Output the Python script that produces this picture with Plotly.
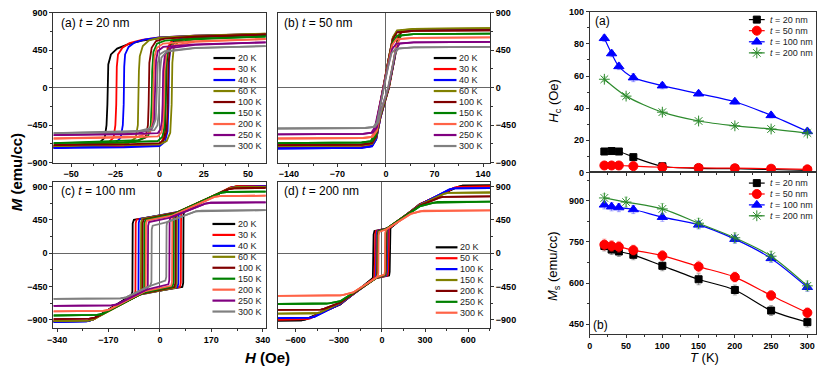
import plotly.graph_objects as go

# ------------------------------------------------------------------
# DATA
# Hysteresis branches: lists of (H [Oe], M [emu/cc]) vertices
# ------------------------------------------------------------------
TEMPS_ABC = ["20 K", "30 K", "40 K", "60 K", "100 K", "150 K", "200 K", "250 K", "300 K"]
TEMPS_D = ["20 K", "50 K", "100 K", "150 K", "200 K", "250 K", "300 K"]

# (a) t = 20 nm
A_DOWN = [
    [(60,635),(20,615),(0,595),(-10,565),(-18,520),(-24,470),(-27.5,400),(-29,280),(-29.5,-200),(-30,-450),(-31,-600),(-35,-680),(-60,-715)],
    [(60,645),(20,625),(0,605),(-10,575),(-17,535),(-21,480),(-23.5,400),(-24.2,250),(-24.5,-200),(-25,-450),(-26,-600),(-30,-680),(-60,-715)],
    [(60,645),(20,625),(0,605),(-8,580),(-14,545),(-17.5,490),(-19.5,400),(-20,250),(-20.3,-200),(-20.8,-450),(-22,-600),(-26,-690),(-60,-725)],
    [(60,650),(20,625),(0,600),(-6,570),(-9.5,500),(-11.2,380),(-11.7,200),(-12,-200),(-12.3,-450),(-13.5,-600),(-18,-670),(-60,-700)],
    [(60,640),(20,615),(3,590),(-2,560),(-4.5,480),(-5.8,300),(-6.2,-200),(-6.6,-450),(-8,-600),(-14,-650),(-60,-690)],
    [(60,615),(20,590),(3,565),(-1.5,530),(-3.5,430),(-4.2,200),(-4.5,-200),(-5,-450),(-6.5,-580),(-12,-630),(-60,-665)],
    [(60,585),(20,560),(2,530),(-1.5,480),(-2.8,380),(-3.3,150),(-3.6,-200),(-4,-420),(-5.5,-540),(-12,-585),(-60,-610)],
    [(60,545),(20,520),(2,490),(-1,440),(-2,330),(-2.4,100),(-2.7,-200),(-3.1,-400),(-4.5,-500),(-12,-545),(-60,-570)],
    [(60,500),(20,478),(3,440),(0,400),(-1,300),(-1.4,100),(-1.7,-200),(-2.2,-380),(-4,-480),(-12,-520),(-60,-545)],
]
A_UP = [
    [(-60,-715),(-20,-705),(0,-690),(2,-640),(3,-520),(3.5,-200),(4,300),(5,480),(8,560),(20,610),(60,635)],
    [(-60,-715),(-20,-705),(0,-690),(1.5,-640),(2.5,-520),(3,-200),(3.5,300),(4.5,480),(7,570),(20,620),(60,645)],
    [(-60,-725),(-20,-715),(0,-700),(3,-650),(4.5,-520),(5,-200),(5.3,300),(6,480),(9,570),(20,620),(60,645)],
    [(-60,-700),(-20,-690),(0,-680),(4,-640),(6,-540),(6.8,-200),(7.2,300),(8,480),(11,570),(20,615),(60,650)],
    [(-60,-690),(-20,-680),(0,-665),(2.5,-620),(4,-520),(4.6,-200),(5,300),(6,480),(9,560),(20,605),(60,640)],
    [(-60,-665),(-20,-655),(-1,-640),(1.5,-590),(2.8,-480),(3.3,-200),(3.6,250),(4.5,450),(8,540),(20,580),(60,615)],
    [(-60,-610),(-20,-600),(-1,-585),(1,-540),(2,-440),(2.5,-200),(2.8,200),(3.8,420),(7,505),(20,550),(60,585)],
    [(-60,-570),(-20,-560),(-1,-545),(0.5,-500),(1.3,-400),(1.7,-200),(2,200),(3,400),(6,475),(20,515),(60,545)],
    [(-60,-545),(-20,-535),(-3,-510),(-1.2,-450),(-0.5,-300),(-0.2,-100),(0.2,200),(1,360),(4,435),(20,475),(60,500)],
]

# (b) t = 50 nm
B_DOWN = [
    [(150,700),(40,692),(16,675),(10,595),(4,350),(-4,0),(-12,-362),(-17,-616),(-22,-700),(-35,-717),(-156,-725)],
    [(150,705),(40,697),(16,680),(10,600),(4,352),(-4.5,0),(-12.5,-362),(-17.5,-616),(-22,-700),(-35,-717),(-156,-725)],
    [(150,700),(40,692),(16,675),(10,595),(4,350),(-4,0),(-12,-365),(-17,-620),(-22,-705),(-35,-722),(-156,-730)],
    [(150,715),(40,707),(16,690),(10,608),(4,357),(-4,0),(-12,-350),(-17,-595),(-22,-675),(-35,-692),(-156,-700)],
    [(150,690),(40,682),(16,665),(10,586),(4,345),(-4,0),(-12,-345),(-17,-586),(-22,-665),(-35,-682),(-156,-690)],
    [(150,650),(40,643),(16,627),(10,552),(4,325),(-4,0),(-12,-332),(-17,-565),(-22,-642),(-35,-658),(-156,-665)],
    [(150,605),(40,598),(15,583),(9,514),(3.5,302),(-3.5,0),(-11,-305),(-16,-518),(-21,-590),(-33,-604),(-156,-610)],
    [(150,550),(40,544),(15,530),(9,467),(3.5,275),(-3.5,0),(-11,-280),(-16,-476),(-21,-540),(-33,-554),(-156,-560)],
    [(150,490),(40,484),(14,470),(8,415),(3,245),(-3,0),(-9,-245),(-13,-415),(-18,-470),(-30,-484),(-156,-490)],
]
B_UP = [
    [(-156,-725),(-35,-717),(-20,-700),(-14,-616),(-8,-362),(4,0),(12,350),(17,595),(22,675),(40,692),(150,700)],
    [(-156,-725),(-35,-717),(-20,-700),(-14,-616),(-8,-362),(4.5,0),(12.5,352),(17.5,600),(22,680),(40,697),(150,705)],
    [(-156,-730),(-35,-722),(-20,-705),(-14,-620),(-8,-365),(4,0),(12,350),(17,595),(22,675),(40,692),(150,700)],
    [(-156,-700),(-35,-692),(-20,-675),(-14,-595),(-8,-350),(4,0),(12,357),(17,608),(22,690),(40,707),(150,715)],
    [(-156,-690),(-35,-682),(-20,-665),(-14,-586),(-8,-345),(4,0),(12,345),(17,586),(22,665),(40,682),(150,690)],
    [(-156,-665),(-35,-658),(-20,-642),(-14,-565),(-8,-332),(4,0),(12,325),(17,552),(22,627),(40,643),(150,650)],
    [(-156,-610),(-33,-604),(-19,-590),(-13,-518),(-7.5,-305),(3.5,0),(10.5,302),(15,514),(20,583),(40,598),(150,605)],
    [(-156,-560),(-33,-554),(-19,-540),(-13,-476),(-7.5,-280),(3.5,0),(10.5,275),(15,467),(20,530),(40,544),(150,550)],
    [(-156,-490),(-30,-484),(-16,-470),(-11,-415),(-6,-245),(3,0),(9,245),(13,415),(18,470),(40,484),(150,490)],
]

# (c) t = 100 nm
C_DOWN = [
    [(350,905),(255,900),(235,885),(80,565),(-86,450),(-90,400),(-91,-520),(-95,-570),(-222,-895),(-240,-915),(-352,-922)],
    [(350,905),(252,900),(232,885),(72,560),(-77,455),(-80,405),(-81,-515),(-85,-565),(-218,-890),(-236,-908),(-352,-915)],
    [(350,900),(255,895),(235,880),(64,560),(-67,460),(-70,410),(-71,-515),(-75,-565),(-225,-900),(-242,-918),(-352,-925)],
    [(350,895),(250,890),(230,875),(58,555),(-59,465),(-62,415),(-63,-510),(-67,-560),(-220,-892),(-238,-908),(-352,-915)],
    [(350,880),(245,875),(225,860),(54,545),(-54,455),(-57,405),(-58,-500),(-62,-550),(-215,-868),(-233,-883),(-352,-890)],
    [(350,830),(220,825),(200,812),(48,530),(-48,450),(-51,400),(-52,-485),(-56,-535),(-190,-818),(-208,-833),(-352,-840)],
    [(350,775),(198,770),(180,758),(43,510),(-43,440),(-46,390),(-47,-465),(-51,-515),(-170,-765),(-188,-778),(-352,-785)],
    [(350,685),(168,680),(150,668),(34,480),(-36,420),(-39,370),(-40,-440),(-44,-490),(-142,-690),(-160,-703),(-352,-710)],
    [(350,580),(138,575),(120,565),(24,420),(-24,370),(-27,320),(-28,-390),(-32,-440),(-112,-595),(-130,-608),(-352,-615)],
]
C_UP = [
    [(-352,-922),(-240,-915),(-222,-895),(-95,-570),(74,-455),(77,-400),(78,510),(80,565),(235,885),(255,900),(350,905)],
    [(-352,-915),(-236,-908),(-218,-890),(-85,-565),(66,-455),(69,-400),(70,505),(72,560),(232,885),(252,900),(350,905)],
    [(-352,-925),(-242,-918),(-225,-900),(-75,-565),(58,-460),(61,-405),(62,505),(64,560),(235,880),(255,895),(350,900)],
    [(-352,-915),(-238,-908),(-220,-892),(-67,-560),(52,-465),(55,-410),(56,500),(58,555),(230,875),(250,890),(350,895)],
    [(-352,-890),(-233,-883),(-215,-868),(-62,-550),(48,-455),(51,-400),(52,490),(54,545),(225,860),(245,875),(350,880)],
    [(-352,-840),(-208,-833),(-190,-818),(-56,-535),(42,-450),(45,-395),(46,475),(48,530),(200,812),(220,825),(350,830)],
    [(-352,-785),(-188,-778),(-170,-765),(-51,-515),(37,-440),(40,-385),(41,455),(43,510),(180,758),(198,770),(350,775)],
    [(-352,-710),(-160,-703),(-142,-690),(-44,-490),(28,-420),(31,-365),(32,425),(34,480),(150,668),(168,680),(350,685)],
    [(-352,-615),(-130,-608),(-112,-595),(-32,-440),(18,-370),(21,-320),(22,370),(24,420),(120,565),(138,575),(350,580)],
]

# (d) t = 200 nm
D_DOWN = [
    [(752,915),(560,910),(530,895),(262,660),(62,345),(-52,300),(-58,250),(-60,-280),(-63,-325),(-68,-345),(-290,-690),(-530,-892),(-560,-905),(-725,-910)],
    [(752,900),(530,895),(500,880),(262,655),(52,342),(-42,300),(-46,250),(-48,-280),(-51,-322),(-56,-342),(-290,-685),(-500,-878),(-530,-890),(-725,-895)],
    [(752,878),(500,873),(470,860),(262,650),(42,338),(-32,300),(-36,250),(-38,-280),(-41,-318),(-46,-338),(-290,-680),(-470,-858),(-500,-870),(-725,-875)],
    [(752,818),(460,813),(430,800),(262,645),(37,335),(-27,298),(-31,250),(-33,-280),(-36,-315),(-41,-335),(-290,-672),(-430,-798),(-460,-810),(-725,-815)],
    [(752,765),(425,760),(400,748),(262,640),(34,332),(-24,295),(-28,245),(-30,-275),(-33,-312),(-38,-332),(-290,-665),(-400,-748),(-425,-760),(-725,-765)],
    [(752,695),(385,690),(360,680),(262,630),(32,330),(-22,293),(-26,245),(-28,-275),(-31,-310),(-36,-330),(-290,-648),(-360,-672),(-385,-682),(-725,-685)],
    [(752,578),(290,575),(265,565),(200,530),(29,320),(-19,288),(-23,240),(-25,-270),(-28,-305),(-33,-322),(-200,-530),(-265,-562),(-290,-572),(-725,-575)],
]
D_UP = [
    [(-725,-910),(-560,-905),(-530,-892),(-290,-690),(-68,-345),(50,-300),(54,-250),(56,280),(59,325),(62,345),(262,660),(530,895),(560,910),(752,915)],
    [(-725,-895),(-530,-890),(-500,-878),(-290,-685),(-56,-342),(40,-300),(44,-250),(46,280),(49,322),(52,342),(262,655),(500,880),(530,895),(752,900)],
    [(-725,-875),(-500,-870),(-470,-858),(-290,-680),(-46,-338),(30,-300),(34,-250),(36,280),(39,318),(42,338),(262,650),(470,860),(500,873),(752,878)],
    [(-725,-815),(-460,-810),(-430,-798),(-290,-672),(-41,-335),(25,-298),(29,-250),(31,280),(34,315),(37,335),(262,645),(430,800),(460,813),(752,818)],
    [(-725,-765),(-425,-760),(-400,-748),(-290,-665),(-38,-332),(22,-295),(26,-245),(28,275),(31,312),(34,332),(262,640),(400,748),(425,760),(752,765)],
    [(-725,-685),(-385,-682),(-360,-672),(-290,-648),(-36,-330),(20,-293),(24,-245),(26,275),(29,310),(32,330),(262,630),(360,680),(385,690),(752,695)],
    [(-725,-575),(-290,-572),(-265,-562),(-200,-530),(-33,-322),(17,-288),(21,-240),(23,270),(26,305),(29,320),(200,530),(265,565),(290,575),(752,578)],
]

# Right panels: coercivity and saturation magnetisation vs temperature
T_MAIN = [20, 30, 40, 60, 100, 150, 200, 250, 300]
T_200 = [20, 50, 100, 150, 200, 250, 300]
THICK_LABELS = ["<i>t</i> = 20 nm", "<i>t</i> = 50 nm", "<i>t</i> = 100 nm", "<i>t</i> = 200 nm"]

HC_20 = [13.0, 13.3, 13.0, 9.5, 3.8, 2.5, 2.3, 1.8, 1.3]
HC_50 = [4.3, 4.3, 4.3, 3.9, 3.2, 2.8, 2.6, 2.3, 1.9]
HC_100 = [83.5, 74.0, 66.0, 59.0, 54.0, 49.0, 44.0, 35.5, 25.5]
HC_200 = [58.0, 47.5, 37.5, 32.0, 29.0, 27.0, 24.5]
HC_ERR_20 = [0.8] * 9
HC_ERR_50 = [0.6] * 9
HC_ERR_100 = [2.0, 2.0, 2.0, 2.5, 2.0, 1.5, 1.5, 1.5, 1.5]
HC_ERR_200 = [1.5, 1.5, 1.5, 1.2, 1.2, 1.2, 1.2]

MS_20 = [735, 722, 715, 703, 663, 614, 575, 500, 458]
MS_50 = [740, 735, 732, 720, 700, 660, 622, 555, 492]
MS_100 = [885, 878, 875, 868, 840, 812, 760, 690, 585]
MS_200 = [910, 895, 870, 818, 765, 698, 590]
MS_ERR_20 = [18, 18, 18, 18, 18, 20, 18, 18, 18]
MS_ERR_50 = [20, 20, 20, 18, 18, 20, 18, 18, 18]
MS_ERR_100 = [15, 15, 15, 15, 15, 15, 15, 15, 15]
MS_ERR_200 = [15, 18, 20, 18, 18, 18, 18]

# ------------------------------------------------------------------
# STYLE
# ------------------------------------------------------------------
W, HGT = 826, 373
FONT = "Liberation Sans, Arial, sans-serif"
COL9 = ["#000000", "#FF0000", "#0000FF", "#808000", "#800000", "#008000", "#FF6347", "#800080", "#808080"]
COL7 = ["#000000", "#FF0000", "#0000FF", "#808000", "#800000", "#008000", "#FF6347"]
TICKFONT = dict(family=FONT, size=9, color="#000", weight="bold")
AXC = "#333333"


def xdom(l, r):
    return [l / W, r / W]


def ydom(t, b):
    return [1 - b / HGT, 1 - t / HGT]


fig = go.Figure()


def add_loops(down, up, colors, n):
    xa = "x" if n == 1 else f"x{n}"
    ya = "y" if n == 1 else f"y{n}"
    for dn, upb, col in zip(down, up, colors):
        for br in (dn, upb):
            fig.add_trace(go.Scatter(
                x=[p[0] for p in br], y=[p[1] for p in br], mode="lines",
                line=dict(color=col, width=1.8), xaxis=xa, yaxis=ya,
                showlegend=False, hoverinfo="skip"))


add_loops(A_DOWN, A_UP, COL9, 1)
add_loops(B_DOWN, B_UP, COL9, 2)
add_loops(C_DOWN, C_UP, COL9, 3)
add_loops(D_DOWN, D_UP, COL7, 4)

# Right panels
SERIES = [
    (T_MAIN, HC_20, HC_ERR_20, MS_20, MS_ERR_20, "#000000", "rgba(0,0,0,0.35)", "square", 7),
    (T_MAIN, HC_50, HC_ERR_50, MS_50, MS_ERR_50, "#FF0000", "rgba(255,0,0,0.35)", "circle", 9),
    (T_MAIN, HC_100, HC_ERR_100, MS_100, MS_ERR_100, "#0000FF", "rgba(0,0,255,0.35)", "triangle-up", 9),
    (T_200, HC_200, HC_ERR_200, MS_200, MS_ERR_200, "#2E8B2E", "rgba(60,160,60,0.4)", "asterisk-open", 9),
]
for tt, hc, hce, ms, mse, col, ecol, sym, sz in SERIES:
    mk = dict(symbol=sym, size=sz, color=col, line=dict(color=col if "asterisk" not in sym else "#5DB85D", width=1))
    fig.add_trace(go.Scatter(x=tt, y=hc, mode="lines+markers", line=dict(color=col, width=1.2, shape="spline", smoothing=0.8),
                             marker=mk, error_y=dict(type="data", array=hce, color=ecol, thickness=1, width=2),
                             xaxis="x5", yaxis="y5", showlegend=False, hoverinfo="skip"))
    fig.add_trace(go.Scatter(x=tt, y=ms, mode="lines+markers", line=dict(color=col, width=1.2, shape="spline", smoothing=0.8),
                             marker=mk, error_y=dict(type="data", array=mse, color=ecol, thickness=1, width=2),
                             xaxis="x6", yaxis="y6", showlegend=False, hoverinfo="skip"))

# ------------------------------------------------------------------
# Hand-drawn legends (pixel layout on an invisible full-figure axis)
# ------------------------------------------------------------------
annotations = []


def legend_block(labels, colors, x0, x1, y0, dy):
    for i, (lab, col) in enumerate(zip(labels, colors)):
        yy = y0 + i * dy
        fig.add_trace(go.Scatter(x=[x0, x1], y=[yy, yy], mode="lines", line=dict(color=col, width=2.2),
                                 xaxis="x7", yaxis="y7", showlegend=False, hoverinfo="skip"))
        annotations.append(dict(x=x1 + 1, y=yy, xref="x7", yref="y7", text=lab, showarrow=False,
                                xanchor="left", yanchor="middle", font=dict(family=FONT, size=9, color="#222")))


legend_block(TEMPS_ABC, COL9, 210, 232, 54.5, 11.3)
legend_block(TEMPS_ABC, COL9, 433, 456, 54.5, 11.3)
legend_block(TEMPS_ABC, COL9, 209, 232, 225, 11.25)
legend_block(TEMPS_D, COL7, 435, 457, 249, 11.2)


def legend_markers(y0, dy):
    for i, (lab, s) in enumerate(zip(THICK_LABELS, SERIES)):
        col, sym, sz = s[5], s[7], s[8]
        yy = y0 + i * dy
        fig.add_trace(go.Scatter(x=[752, 768], y=[yy, yy], mode="lines", line=dict(color=col, width=1.2),
                                 xaxis="x7", yaxis="y7", showlegend=False, hoverinfo="skip"))
        fig.add_trace(go.Scatter(x=[760], y=[yy], mode="markers",
                                 marker=dict(symbol=sym, size=sz, color=col,
                                             line=dict(color=col if "asterisk" not in sym else "#5DB85D", width=1)),
                                 xaxis="x7", yaxis="y7", showlegend=False, hoverinfo="skip"))
        annotations.append(dict(x=771, y=yy, xref="x7", yref="y7", text=lab, showarrow=False,
                                xanchor="left", yanchor="middle", font=dict(family=FONT, size=9, color="#222")))


legend_markers(15, 11.4)
legend_markers(183, 11.2)

# Panel labels and axis titles
def txt(x, y, s, size, anchor="left", angle=0, bold=False):
    annotations.append(dict(x=x, y=y, xref="x7", yref="y7", text=s, showarrow=False, xanchor=anchor,
                            yanchor="middle", textangle=angle,
                            font=dict(family=FONT, size=size, color="#000", weight="bold" if bold else "normal")))


txt(54, 18, "(a) <i>t</i> = 20 nm", 12)
txt(279, 18, "(b) <i>t</i> = 50 nm", 12)
txt(54, 191, "(c) <i>t</i> = 100 nm", 12)
txt(279, 191, "(d) <i>t</i> = 200 nm", 12)
txt(594, 16, "(a)", 12)
txt(592, 329, "(b)", 12)
txt(11, 172, "<i>M</i> (emu/cc)", 15, anchor="center", angle=-90, bold=True)
txt(265, 362, "<i>H</i> (Oe)", 15, anchor="center", bold=True)
txt(555, 98, "<i>H</i><sub>c</sub> (Oe)", 13, anchor="center", angle=-90)
txt(555, 268, "<i>M</i><sub>s</sub> (emu/cc)", 13, anchor="center", angle=-90)
txt(707, 362, "<i>T</i> (K)", 13, anchor="center")

# ------------------------------------------------------------------
# AXES
# ------------------------------------------------------------------
def axis(dom, rng, tickvals, minor, anchor, side=None, labels=True, zero=True):
    d = dict(domain=dom, range=rng, tickvals=tickvals, ticks="outside", ticklen=3, tickwidth=1, tickcolor=AXC,
             showline=True, linecolor=AXC, linewidth=1, mirror=True, showgrid=False,
             zeroline=zero, zerolinecolor="#666", zerolinewidth=1, tickfont=TICKFONT,
             showticklabels=labels, anchor=anchor, ticklabeloverflow="allow",
             minor=dict(dtick=minor, ticks="outside", ticklen=2, tickcolor=AXC, showgrid=False))
    if side:
        d["side"] = side
    return d


YT = [-900, -450, 0, 450, 900]
lay = dict(
    xaxis=axis(xdom(48, 263), [-60, 60], [-50, -25, 0, 25, 50], 12.5, "y"),
    yaxis=axis(ydom(8, 162), [-900, 900], YT, 225, "x"),
    xaxis2=axis(xdom(275, 490), [-156, 150], [-140, -70, 0, 70, 140], 35, "y2"),
    yaxis2=axis(ydom(8, 162), [-900, 900], YT, 225, "x2", side="right"),
    xaxis3=axis(xdom(48, 263), [-352, 350], [-340, -170, 0, 170, 340], 85, "y3"),
    yaxis3=axis(ydom(182, 332), [-1010, 958], YT, 225, "x3"),
    xaxis4=axis(xdom(275, 490), [-725, 752], [-600, -300, 0, 300, 600], 150, "y4"),
    yaxis4=axis(ydom(182, 332), [-1010, 958], YT, 225, "x4", side="right"),
    xaxis5=axis(xdom(591, 820), [0, 312], [0, 50, 100, 150, 200, 250, 300], 25, "y5", labels=False, zero=False),
    yaxis5=axis(ydom(7, 172), [0, 100], [0, 20, 40, 60, 80, 100], 10, "x5", zero=False),
    xaxis6=axis(xdom(591, 820), [0, 312], [0, 50, 100, 150, 200, 250, 300], 25, "y6", zero=False),
    yaxis6=axis(ydom(172, 338), [415, 1003], [450, 600, 750, 900], 75, "x6", zero=False),
    xaxis7=dict(domain=[0, 1], range=[0, W], visible=False, fixedrange=True, anchor="y7"),
    yaxis7=dict(domain=[0, 1], range=[HGT, 0], visible=False, fixedrange=True, anchor="x7"),
)

fig.update_layout(
    width=W, height=HGT, margin=dict(l=0, r=0, t=0, b=0),
    paper_bgcolor="white", plot_bgcolor="rgba(0,0,0,0)", showlegend=False,
    font=dict(family=FONT, color="#000"), hovermode=False,
    annotations=annotations, **lay)

fig.write_html("out.html", config={"displayModeBar": False, "staticPlot": True},
               post_script="document.body.style.margin='0';document.body.style.overflow='hidden';")
